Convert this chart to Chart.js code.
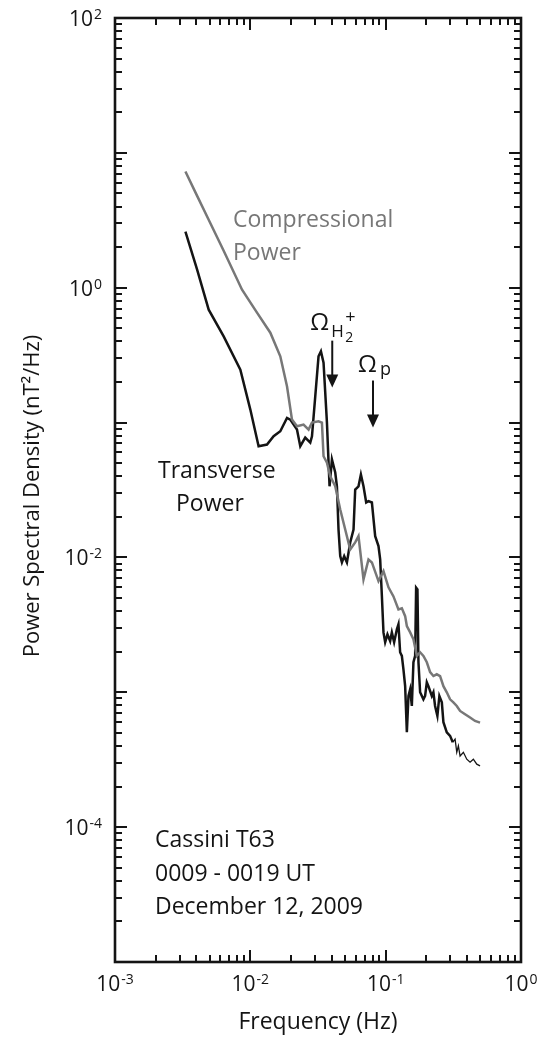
<!DOCTYPE html>
<html>
<head>
<meta charset="utf-8">
<script src="https://cdn.jsdelivr.net/npm/chart.js@4.4.1/dist/chart.umd.min.js"></script>
<style>
  html, body { margin: 0; padding: 0; background: #fff; }
  #wrap { width: 541px; height: 1040px; position: relative; }
</style>
</head>
<body>
<div id="wrap"><canvas id="psd" width="541" height="1040"></canvas></div>
<script>
// Compressional (field-aligned) power spectrum
const compFreq = [0.003314, 0.004044, 0.004923, 0.006353, 0.008683, 0.01120, 0.01405, 0.01665, 0.01866, 0.02031,
  0.02211, 0.02473, 0.02694, 0.02854, 0.03191, 0.03381, 0.03475, 0.03682, 0.03895, 0.04240,
  0.04616, 0.05025, 0.05470, 0.05955, 0.06299, 0.06858, 0.07466, 0.07910, 0.08850, 0.09634,
  0.1049, 0.1142, 0.1243, 0.1317, 0.1393, 0.1434, 0.1517, 0.1604, 0.1699, 0.1797,
  0.1901, 0.2014, 0.2130, 0.2253, 0.2386, 0.2524, 0.2671, 0.2829, 0.2992, 0.3165,
  0.3353, 0.3547, 0.3861, 0.4204, 0.4576, 0.4982];
const compPSD = [7.27, 4.80, 3.19, 1.88, 0.966, 0.653, 0.464, 0.310, 0.1857, 0.1052,
  0.0939, 0.0966, 0.0887, 0.100, 0.1022, 0.100, 0.0563, 0.0505, 0.0400, 0.0337,
  0.02268, 0.01612, 0.01146, 0.01292, 0.01438, 0.00687, 0.00966, 0.00918, 0.00668, 0.00792,
  0.00600, 0.00514, 0.00412, 0.00419, 0.00367, 0.00310, 0.00278, 0.00247, 0.00186, 0.00198,
  0.00186, 0.00167, 0.00141, 0.00132, 0.00136, 0.00132, 0.00111, 0.00100, 0.000887, 0.000843,
  0.000792, 0.000727, 0.000687, 0.000650, 0.000613, 0.000596];

// Transverse power spectrum
const transFreq = [0.003314, 0.004044, 0.004923, 0.006353, 0.008437, 0.01000, 0.01151, 0.01328, 0.01486, 0.01665,
  0.01866, 0.01973, 0.02211, 0.02339, 0.02545, 0.02772, 0.02854, 0.03018, 0.03191, 0.03324,
  0.03475, 0.03682, 0.03785, 0.03849, 0.04009, 0.04240, 0.04363, 0.04483, 0.04616, 0.04751,
  0.04939, 0.05172, 0.05470, 0.05787, 0.05955, 0.06299, 0.06561, 0.06858, 0.07181, 0.07466,
  0.07910, 0.08366, 0.08850, 0.09108, 0.09376, 0.09634, 0.09915, 0.1031, 0.1079, 0.1111,
  0.1155, 0.1210, 0.1243, 0.1279, 0.1317, 0.1353, 0.1393, 0.1434, 0.1474, 0.1517,
  0.1561, 0.1604, 0.1651, 0.1679, 0.1717, 0.1747, 0.1797, 0.1901, 0.1956, 0.2014,
  0.2070, 0.2193, 0.2253, 0.2318, 0.2411, 0.2494, 0.2600, 0.2671, 0.2829, 0.2992,
  0.3132, 0.3258, 0.3353, 0.3446, 0.3547, 0.3752, 0.3975, 0.4204, 0.4446, 0.4711,
  0.4982];
const transPSD = [2.61, 1.36, 0.687, 0.436, 0.247, 0.1248, 0.0668, 0.0687, 0.0792, 0.0862,
  0.1083, 0.1052, 0.0887, 0.0668, 0.0774, 0.0711, 0.0792, 0.1566, 0.310, 0.3374,
  0.2783, 0.100, 0.0505, 0.0337, 0.0532, 0.0426, 0.0337, 0.01612, 0.01022, 0.00918,
  0.01022, 0.00918, 0.01292, 0.01612, 0.0319, 0.0337, 0.0412, 0.0337, 0.02556, 0.02612,
  0.02556, 0.01438, 0.01213, 0.00966, 0.00517, 0.00278, 0.00235, 0.00269, 0.00240, 0.00278,
  0.00235, 0.00293, 0.00319, 0.00198, 0.00186, 0.00148, 0.00111, 0.000505, 0.000939, 0.001052,
  0.000792, 0.00167, 0.00186, 0.00597, 0.00579, 0.00167, 0.00100, 0.000887, 0.000939, 0.001186,
  0.00111, 0.000939, 0.00100, 0.000792, 0.000668, 0.000939, 0.000843, 0.000600, 0.000505, 0.000475,
  0.000426, 0.000449, 0.000359, 0.000400, 0.000337, 0.000359, 0.000319, 0.000303, 0.000319, 0.000293,
  0.000285];

// Axis decades and labelled decades
const xDecades = [-3, -2, -1, 0];
const yDecades = [-5, -4, -3, -2, -1, 0, 1, 2];
const yLabelDecades = [2, 0, -2, -4];

// Gyrofrequency markers (Hz) and arrow extents in PSD units
const gyroNames = ['H2+', 'p'];
const gyroFreq = [0.0403, 0.0806];
const gyroArrowTop = [0.405, 0.205];
const gyroArrowTip = [0.182, 0.092];

const FONT = '"Open Sans", "DejaVu Sans", sans-serif';
const GREY = '#777777';
const INK = '#141414';

function toPoints(fs, ps) { return fs.map((f, i) => ({ x: f, y: ps[i] })); }

function drawPow(ctx, base, exp, x, y, align, size, supSize) {
  ctx.font = size + 'px ' + FONT;
  const w1 = ctx.measureText(base).width;
  ctx.font = supSize + 'px ' + FONT;
  const w2 = ctx.measureText(exp).width;
  const total = w1 + w2 + 1;
  let left = x;
  if (align === 'center') left = x - total / 2;
  else if (align === 'right') left = x - total;
  ctx.textAlign = 'left';
  ctx.textBaseline = 'alphabetic';
  ctx.font = size + 'px ' + FONT;
  ctx.fillText(base, left, y);
  ctx.font = supSize + 'px ' + FONT;
  ctx.fillText(exp, left + w1 + 1, y - 7);
}

const framePlugin = {
  id: 'framePlugin',
  afterDatasetsDraw(chart) {
    const { ctx, chartArea: a, scales } = chart;
    const xs = scales.x, ys = scales.y;
    ctx.save();
    ctx.strokeStyle = INK;
    ctx.fillStyle = INK;

    // inward ticks on all four sides
    ctx.lineWidth = 2;
    ctx.lineCap = 'butt';
    const major = 12, minor = 7;
    ctx.beginPath();
    for (let d = -3; d < 0; d++) {
      for (let m = 1; m <= 9; m++) {
        const v = m * Math.pow(10, d);
        const px = Math.round(xs.getPixelForValue(v));
        if (px <= a.left + 1 || px >= a.right - 1) continue;
        const len = m === 1 ? major : minor;
        ctx.moveTo(px, a.bottom); ctx.lineTo(px, a.bottom - len);
        ctx.moveTo(px, a.top); ctx.lineTo(px, a.top + len);
      }
    }
    for (const d of yDecades) {
      if (d >= 2) continue;
      for (let m = 1; m <= 9; m++) {
        const v = m * Math.pow(10, d);
        const py = Math.round(ys.getPixelForValue(v));
        if (py <= a.top + 1 || py >= a.bottom - 1) continue;
        const len = m === 1 ? major : minor;
        ctx.moveTo(a.left, py); ctx.lineTo(a.left + len, py);
        ctx.moveTo(a.right, py); ctx.lineTo(a.right - len, py);
      }
    }
    ctx.stroke();

    // frame
    ctx.lineWidth = 2.6;
    ctx.strokeRect(a.left, a.top, a.right - a.left, a.bottom - a.top);

    // tick labels
    for (const d of xDecades) {
      const px = xs.getPixelForValue(Math.pow(10, d));
      drawPow(ctx, '10', String(d), px, a.bottom + 29, 'center', 21, 14);
    }
    for (const d of yLabelDecades) {
      const py = ys.getPixelForValue(Math.pow(10, d));
      drawPow(ctx, '10', String(d), a.left - 13, py + 8, 'right', 21, 14);
    }

    // axis titles
    ctx.font = '23px ' + FONT;
    ctx.textAlign = 'center';
    ctx.textBaseline = 'alphabetic';
    ctx.fillText('Frequency (Hz)', (a.left + a.right) / 2, 1029);
    ctx.save();
    ctx.translate(39, 496);
    ctx.rotate(-Math.PI / 2);
    ctx.font = '22px ' + FONT;
    ctx.fillText('Power Spectral Density (nT\u00B2/Hz)', 0, 0);
    ctx.restore();

    // series labels
    ctx.textAlign = 'left';
    ctx.font = '23px ' + FONT;
    ctx.fillStyle = GREY;
    ctx.fillText('Compressional', 233, 227);
    ctx.fillText('Power', 233, 260);
    ctx.fillStyle = INK;
    ctx.fillText('Transverse', 158, 478);
    ctx.fillText('Power', 176, 511);

    // event annotation
    ctx.fillText('Cassini T63', 155, 847);
    ctx.fillText('0009 - 0019 UT', 155, 881);
    ctx.fillText('December 12, 2009', 155, 914);

    // gyrofrequency arrows
    ctx.lineWidth = 2;
    gyroFreq.forEach((f, i) => {
      const ax = xs.getPixelForValue(f);
      const top = ys.getPixelForValue(gyroArrowTop[i]);
      const tip = ys.getPixelForValue(gyroArrowTip[i]);
      ctx.beginPath();
      ctx.moveTo(ax, top);
      ctx.lineTo(ax, tip - 10);
      ctx.stroke();
      ctx.beginPath();
      ctx.moveTo(ax, tip);
      ctx.lineTo(ax - 6, tip - 13);
      ctx.lineTo(ax + 6, tip - 13);
      ctx.closePath();
      ctx.fill();

      ctx.textAlign = 'left';
      if (gyroNames[i] === 'H2+') {
        ctx.font = '24px ' + FONT;
        ctx.fillText('\u03A9', ax - 22, top - 11);
        ctx.font = '17px ' + FONT;
        ctx.fillText('H', ax - 1, top - 4);
        ctx.font = '14px ' + FONT;
        ctx.fillText('2', ax + 13, top + 1);
        ctx.font = '18px ' + FONT;
        ctx.fillText('+', ax + 13, top - 18);
      } else {
        ctx.font = '24px ' + FONT;
        ctx.fillText('\u03A9', ax - 15, top - 9);
        ctx.font = '18px ' + FONT;
        ctx.fillText('p', ax + 7, top - 6);
      }
    });
    ctx.restore();
  }
};

new Chart(document.getElementById('psd'), {
  type: 'line',
  data: {
    datasets: [
      {
        label: 'Compressional Power',
        data: toPoints(compFreq, compPSD),
        borderColor: GREY,
        borderWidth: 2.5,
        pointRadius: 0,
        tension: 0,
        fill: false
      },
      {
        label: 'Transverse Power',
        data: toPoints(transFreq, transPSD),
        borderColor: INK,
        borderWidth: 2.5,
        pointRadius: 0,
        tension: 0,
        fill: false,
        segment: {
          borderWidth: c => (c.p0.parsed.x > 0.3 ? 1.3 : 2.5)
        }
      }
    ]
  },
  options: {
    responsive: false,
    devicePixelRatio: 1,
    animation: false,
    events: [],
    layout: { padding: { left: 115, right: 20, top: 18, bottom: 78 } },
    plugins: { legend: { display: false }, tooltip: { enabled: false } },
    scales: {
      x: { type: 'logarithmic', min: 1e-3, max: 1, display: false },
      y: { type: 'logarithmic', min: 1e-5, max: 1e2, display: false }
    }
  },
  plugins: [framePlugin]
});
</script>
</body>
</html>
